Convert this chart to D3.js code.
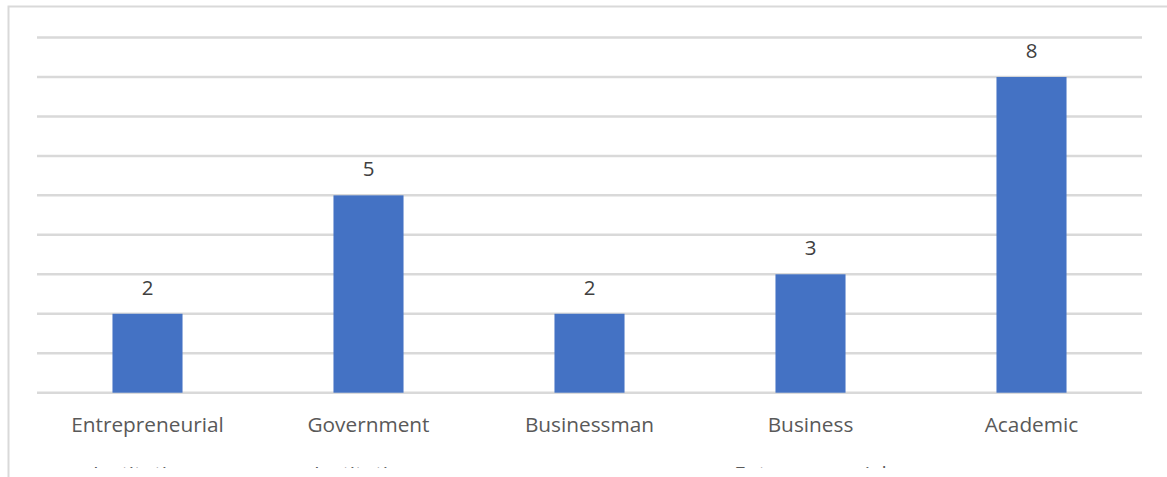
<!DOCTYPE html>
<html>
<head>
<meta charset="utf-8">
<script src="https://cdn.jsdelivr.net/npm/d3@7"></script>
<style>
  html, body { margin: 0; padding: 0; background: #fff; }
  svg { display: block; }
</style>
</head>
<body>
<svg id="chart" width="1167" height="477"></svg>
<script>
// Category names (two-line labels) and counts
const categories = [
  ["Entrepreneurial", "Institutions"],
  ["Government", "Institutions"],
  ["Businessman", ""],
  ["Business", "Entrepreneurial"],
  ["Academic", ""]
];
const values = [2, 5, 2, 3, 8];
const gridTicks = [0, 1, 2, 3, 4, 5, 6, 7, 8, 9];

const svg = d3.select("#chart");
const W = 1167, H = 477;
const plot = { left: 37, right: 1142, top: 37.5, bottom: 392.7 };
const font = "'Open Sans', Lato, sans-serif";

// Chart area frame (right and bottom edges fall outside the view)
svg.append("rect")
  .attr("x", 8.5).attr("y", 6.5)
  .attr("width", 1200).attr("height", 500)
  .attr("fill", "#fff")
  .attr("stroke", "#d9d9d9").attr("stroke-width", 2);

const x = d3.scaleBand()
  .domain(d3.range(categories.length))
  .range([plot.left, plot.right])
  .paddingInner(0.683).paddingOuter(0.3415);

const y = d3.scaleLinear()
  .domain([0, 9])
  .range([plot.bottom, plot.top]);

// Horizontal gridlines
svg.append("g")
  .selectAll("line")
  .data(gridTicks)
  .join("line")
  .attr("x1", plot.left).attr("x2", plot.right)
  .attr("y1", d => y(d)).attr("y2", d => y(d))
  .attr("stroke", "#d9d9d9").attr("stroke-width", 2.5);

// Bars
svg.append("g")
  .selectAll("rect")
  .data(values)
  .join("rect")
  .attr("x", (d, i) => x(i))
  .attr("width", x.bandwidth())
  .attr("y", d => y(d))
  .attr("height", d => y(0) - y(d))
  .attr("fill", "#4472c4");

// Value labels
svg.append("g")
  .selectAll("text")
  .data(values)
  .join("text")
  .attr("x", (d, i) => x(i) + x.bandwidth() / 2)
  .attr("y", d => y(d) - 19)
  .attr("text-anchor", "middle")
  .attr("font-family", font)
  .attr("font-size", 20.5)
  .attr("fill", "#404040")
  .text(d => d);

// Category axis labels, clipped at the lower edge of the chart area
svg.append("clipPath").attr("id", "labelClip")
  .append("rect").attr("x", 0).attr("y", 0).attr("width", W).attr("height", 468);

const labels = svg.append("g").attr("clip-path", "url(#labelClip)")
  .selectAll("text")
  .data(categories)
  .join("text")
  .attr("text-anchor", "middle")
  .attr("font-family", font)
  .attr("font-size", 20.8)
  .attr("fill", "#595959");

labels.each(function(d, i) {
  const t = d3.select(this);
  const cx = x(i) + x.bandwidth() / 2;
  d.forEach((line, k) => {
    if (!line) return;
    t.append("tspan")
      .attr("x", cx)
      .attr("y", 432 + k * 49)
      .text(line);
  });
});
</script>
</body>
</html>
